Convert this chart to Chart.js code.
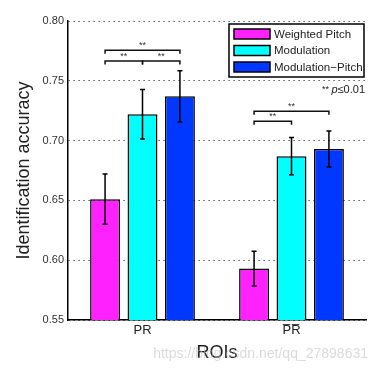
<!DOCTYPE html>
<html>
<head>
<meta charset="utf-8">
<script src="https://cdn.jsdelivr.net/npm/chart.js@4"></script>
<style>
  html, body { margin: 0; padding: 0; background: #fff; }
</style>
</head>
<body>
<canvas id="roi-chart" width="378" height="371"></canvas>
<script>
const rois = ['PR', 'P\u0305R\u0305']
const seriesNames = ['Weighted Pitch', 'Modulation', 'Modulation\u2212Pitch']
const seriesColors = ['#ff22ff', '#00ffff', '#0038ff']
const weightedPitch = [0.651, 0.593]
const modulation = [0.722, 0.687]
const modulationPitch = [0.737, 0.693]
const weightedPitchErr = [0.021, 0.0145]
const modulationErr = [0.0207, 0.0155]
const modulationPitchErr = [0.0215, 0.015]
const yTicks = [0.55, 0.60, 0.65, 0.70, 0.75, 0.80]
// significance brackets: roi index, bar indexes, height in accuracy units
const brackets = [
  { roi: 0, from: 0, to: 1, level: 0.7665 },
  { roi: 0, from: 1, to: 2, level: 0.7665 },
  { roi: 0, from: 0, to: 2, level: 0.7755 },
  { roi: 1, from: 0, to: 1, level: 0.7162 },
  { roi: 1, from: 0, to: 2, level: 0.7246 }
]
const sigLabel = '**'

const FONT = '"Liberation Sans", Arial, sans-serif'
const errors = [weightedPitchErr, modulationErr, modulationPitchErr]

const errorBars = {
  id: 'errorBars',
  afterDatasetsDraw(chart) {
    const ctx = chart.ctx
    const y = chart.scales.y
    ctx.save()
    ctx.strokeStyle = '#000'
    ctx.lineWidth = 1.5
    chart.data.datasets.forEach((ds, i) => {
      chart.getDatasetMeta(i).data.forEach((bar, j) => {
        const v = ds.data[j], e = errors[i][j]
        const top = y.getPixelForValue(v + e)
        const bot = y.getPixelForValue(v - e)
        ctx.beginPath()
        ctx.moveTo(bar.x, top); ctx.lineTo(bar.x, bot)
        ctx.moveTo(bar.x - 2.5, top); ctx.lineTo(bar.x + 2.5, top)
        ctx.moveTo(bar.x - 2.5, bot); ctx.lineTo(bar.x + 2.5, bot)
        ctx.stroke()
      })
    })
    ctx.restore()
  }
}

const sigBrackets = {
  id: 'sigBrackets',
  afterDatasetsDraw(chart) {
    const ctx = chart.ctx
    const y = chart.scales.y
    ctx.save()
    ctx.strokeStyle = '#111'
    ctx.lineWidth = 1.5
    ctx.fillStyle = '#333'
    ctx.font = '9px ' + FONT
    ctx.textAlign = 'center'
    brackets.forEach(b => {
      const x1 = chart.getDatasetMeta(b.from).data[b.roi].x
      const x2 = chart.getDatasetMeta(b.to).data[b.roi].x
      const yy = y.getPixelForValue(b.level)
      ctx.beginPath()
      ctx.moveTo(x1, yy + 3.5); ctx.lineTo(x1, yy); ctx.lineTo(x2, yy); ctx.lineTo(x2, yy + 3.5)
      ctx.stroke()
      ctx.fillText(sigLabel, (x1 + x2) / 2, yy - 2)
    })
    ctx.restore()
  }
}

const boxLegend = {
  id: 'boxLegend',
  afterDraw(chart) {
    const ctx = chart.ctx
    const area = chart.chartArea
    const w = 135, h = 53
    const left = area.right - w - 2, top = area.top + 3
    ctx.save()
    ctx.fillStyle = '#fff'
    ctx.fillRect(left, top, w, h)
    ctx.strokeStyle = '#000'
    ctx.lineWidth = 1.5
    ctx.strokeRect(left, top, w, h)
    ctx.font = '11.5px ' + FONT
    ctx.textBaseline = 'middle'
    chart.data.datasets.forEach((ds, i) => {
      const cy = top + 10 + i * 16.5
      ctx.fillStyle = ds.backgroundColor
      ctx.fillRect(left + 5, cy - 5, 36, 10)
      ctx.strokeRect(left + 5, cy - 5, 36, 10)
      ctx.fillStyle = '#222'
      ctx.fillText(ds.label, left + 45, cy + 0.5)
    })
    // significance note
    ctx.textBaseline = 'alphabetic'
    const rest = '\u22640.01'
    ctx.font = '11px ' + FONT
    const restW = ctx.measureText(rest).width
    let x = area.right - 1 - restW
    ctx.fillText(rest, x, top + h + 16)
    ctx.font = 'italic 11px ' + FONT
    x -= ctx.measureText('p').width
    ctx.fillText('p', x, top + h + 16)
    ctx.font = '9px ' + FONT
    x -= ctx.measureText(sigLabel + ' ').width
    ctx.fillText(sigLabel + ' ', x, top + h + 15)
    ctx.restore()
  }
}

const watermark = {
  id: 'watermark',
  afterDraw(chart) {
    const ctx = chart.ctx
    ctx.save()
    ctx.fillStyle = 'rgba(190,190,190,0.55)'
    ctx.font = '14px ' + FONT
    ctx.textAlign = 'right'
    ctx.fillText('https://blog.csdn.net/qq_27898631', 368, 358)
    ctx.restore()
  }
}

const ctx = document.getElementById('roi-chart').getContext('2d')

const chart = new Chart(ctx, {
  type: 'bar',
  data: {
    labels: rois,
    datasets: [weightedPitch, modulation, modulationPitch].map((d, i) => ({
      label: seriesNames[i],
      data: d,
      backgroundColor: seriesColors[i],
      borderColor: '#000',
      borderWidth: 1.5,
      borderSkipped: false,
      categoryPercentage: 0.7535,
      barPercentage: 0.8
    }))
  },
  options: {
    responsive: false,
    animation: false,
    layout: { padding: { left: 0, right: 12, top: 21, bottom: 0 } },
    plugins: {
      legend: { display: false },
      tooltip: { enabled: false }
    },
    scales: {
      x: {
        grid: { display: false, drawTicks: false },
        border: { color: '#000', width: 1.5 },
        ticks: { color: '#222', padding: 3, font: { family: FONT, size: 13 } },
        title: {
          display: true, text: 'ROIs', color: '#222',
          font: { family: FONT, size: 18 }, padding: { top: 0, bottom: 7 }
        },
        afterFit(scale) { scale.height = 51 }
      },
      y: {
        min: 0.55,
        max: 0.80,
        afterBuildTicks(scale) { scale.ticks = yTicks.map(v => ({ value: v })) },
        grid: { color: '#333', lineWidth: 1, drawTicks: false },
        border: { color: '#000', width: 1.5, dash: [1.2, 3.8] },
        ticks: {
          color: '#333', padding: 4, font: { family: FONT, size: 11 },
          callback: v => v.toFixed(2)
        },
        title: {
          display: true, text: 'Identification accuracy', color: '#222',
          font: { family: FONT, size: 18 }, padding: { top: 13, bottom: 0 }
        },
        afterFit(scale) { scale.width = 68 }
      }
    }
  },
  plugins: [errorBars, sigBrackets, boxLegend, watermark]
})
</script>
</body>
</html>
